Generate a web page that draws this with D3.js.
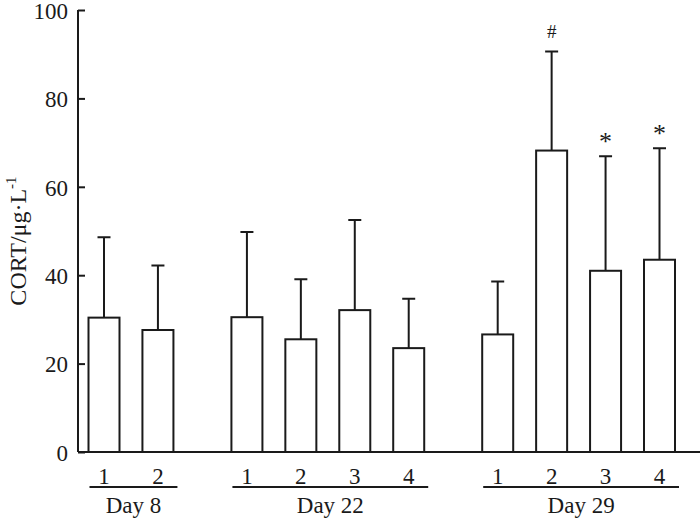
<!DOCTYPE html>
<html><head><meta charset="utf-8">
<script src="https://cdn.jsdelivr.net/npm/d3@7"></script>
<style>body{margin:0;background:#fff}svg{display:block}text{font-family:"Liberation Serif","Times New Roman",serif;fill:#1a1a1a}</style>
</head><body><svg id="c" width="700" height="518"></svg>
<script>
const groups = ["Day 8", "Day 22", "Day 29"];
const groupBars = [["1","2"], ["1","2","3","4"], ["1","2","3","4"]];
const means = [[30.4, 27.6], [30.5, 25.5, 32.1, 23.5], [26.6, 68.2, 41.0, 43.5]];
const errTop = [[48.6, 42.2], [49.8, 39.1, 52.5, 34.7], [38.6, 90.6, 66.9, 68.7]];
const marks = [["",""], ["","","",""], ["","#","*","*"]];
const yTicks = [0, 20, 40, 60, 80, 100];

const svg = d3.select("#c");
const stroke = "#1a1a1a";
const gapSlots = 1.65;
const data = [];
let slot = 0;
groups.forEach((g, gi) => {
  groupBars[gi].forEach((lab, bi) => {
    data.push({g: gi, label: lab, mean: means[gi][bi], top: errTop[gi][bi], mark: marks[gi][bi], slot: slot});
    slot += 1;
  });
  slot += gapSlots - 1;
});
const x = d3.scaleLinear().domain([0, data[data.length-1].slot]).range([104, 659.5]);
const y = d3.scaleLinear().domain([0, 100]).range([452, 10]);
const bw = 31;

// y axis
const yAxis = d3.axisLeft(y).tickValues(yTicks).tickSize(-7).tickPadding(10);
const ga = svg.append("g").attr("transform", "translate(78,0)").call(yAxis);
ga.select(".domain").attr("stroke", stroke).attr("stroke-width", 2).attr("d", `M0,${y(100)}H0V${y(0)}`);
ga.selectAll(".tick line").attr("stroke", stroke).attr("stroke-width", 2);
ga.selectAll(".tick text").attr("font-size", 23).attr("font-family", "Liberation Serif").attr("fill", "#1a1a1a").attr("dy", "0.36em");

// baseline
svg.append("line").attr("x1", 78).attr("x2", 700).attr("y1", y(0)).attr("y2", y(0)).attr("stroke", stroke).attr("stroke-width", 2);

// error bars
svg.selectAll(".err").data(data).enter().append("path")
  .attr("d", d => `M${x(d.slot)},${y(d.mean)}V${y(d.top)}M${x(d.slot)-6.5},${y(d.top)}H${x(d.slot)+6.5}`)
  .attr("stroke", stroke).attr("stroke-width", 2).attr("fill", "none");

// bars
svg.selectAll(".bar").data(data).enter().append("rect")
  .attr("x", d => x(d.slot) - bw/2).attr("width", bw)
  .attr("y", d => y(d.mean)).attr("height", d => y(0) - y(d.mean))
  .attr("fill", "#fff").attr("stroke", stroke).attr("stroke-width", 2);

// significance marks
svg.selectAll(".mk").data(data.filter(d => d.mark)).enter().append("text")
  .attr("x", d => x(d.slot)).attr("y", d => d.mark === "#" ? y(d.top) - 14 : y(d.top) - 6)
  .attr("text-anchor", "middle")
  .attr("font-size", d => d.mark === "#" ? 19 : 26)
  .text(d => d.mark);

// bar labels
svg.selectAll(".bl").data(data).enter().append("text")
  .attr("x", d => x(d.slot)).attr("y", 484).attr("text-anchor", "middle")
  .attr("font-size", 23).text(d => d.label);

// group lines & labels
groups.forEach((g, gi) => {
  const ds = data.filter(d => d.g === gi);
  const x0 = x(ds[0].slot) - bw/2 + 1, x1 = x(ds[ds.length-1].slot) + bw/2 + 4;
  svg.append("line").attr("x1", x0).attr("x2", x1).attr("y1", 487).attr("y2", 487).attr("stroke", stroke).attr("stroke-width", 2);
  svg.append("text").attr("x", (x0 + x1)/2).attr("y", 513).attr("text-anchor", "middle").attr("font-size", 23).text(g);
});

// y label
const yl = svg.append("text").attr("transform", "translate(26,241) rotate(-90)").attr("text-anchor", "middle").attr("font-size", 24);
yl.append("tspan").text("CORT/μg·L");
yl.append("tspan").attr("dy", -10).attr("font-size", 15).text("-1");
</script></body></html>
